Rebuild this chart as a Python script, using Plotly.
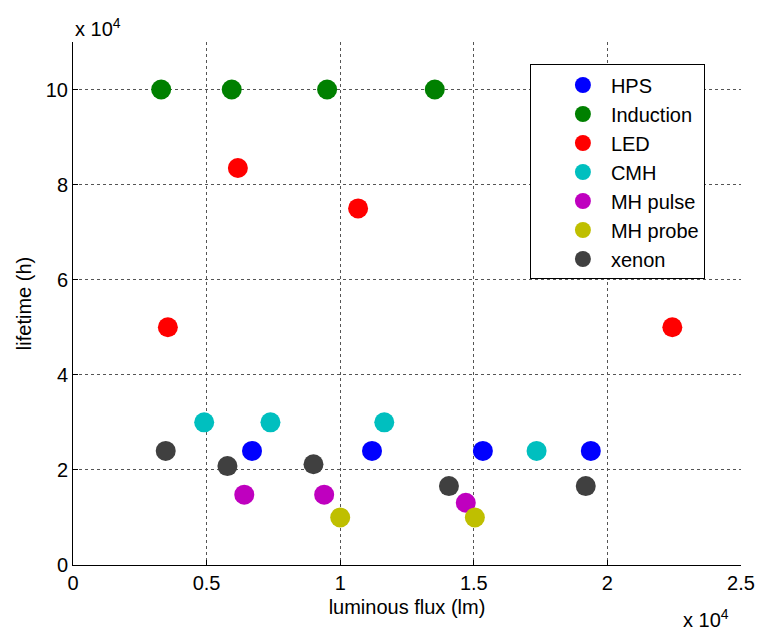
import plotly.graph_objects as go

series_names = ["HPS", "Induction", "LED", "CMH", "MH pulse", "MH probe", "xenon"]
series_colors = ["#0000ff", "#008000", "#ff0000", "#00bfbf", "#bf00bf", "#bfbf00", "#404040"]

hps_x = [6700, 11190, 15340, 19380]
hps_y = [24000, 24000, 24000, 24000]
induction_x = [3300, 5940, 9510, 13540]
induction_y = [100000, 100000, 100000, 100000]
led_x = [3550, 6170, 10670, 22430]
led_y = [50000, 83500, 75000, 50000]
cmh_x = [4910, 7390, 11650, 17350]
cmh_y = [30000, 30000, 30000, 24000]
mhpulse_x = [6410, 9400, 14700]
mhpulse_y = [14800, 14800, 13100]
mhprobe_x = [10000, 15040]
mhprobe_y = [10000, 10000]
xenon_x = [3470, 5780, 9000, 14070, 19190]
xenon_y = [24000, 20800, 21200, 16600, 16600]

xs = [hps_x, induction_x, led_x, cmh_x, mhpulse_x, mhprobe_x, xenon_x]
ys = [hps_y, induction_y, led_y, cmh_y, mhpulse_y, mhprobe_y, xenon_y]

x_tickvals = [0, 5000, 10000, 15000, 20000, 25000]
x_ticktext = ["0", "0.5", "1", "1.5", "2", "2.5"]
y_tickvals = [0, 20000, 40000, 60000, 80000, 100000]
y_ticktext = ["0", "2", "4", "6", "8", "10"]

FONT = "Liberation Sans, Arial, sans-serif"
FS = 20

fig = go.Figure()
for name, color, x, y in zip(series_names, series_colors, xs, ys):
    fig.add_trace(go.Scatter(x=x, y=y, mode="markers", name=name,
                             marker=dict(size=20, color=color, line=dict(width=0))))

axis_common = dict(showline=True, linecolor="black", linewidth=1, mirror=False,
                   ticks="inside", ticklen=5, tickcolor="black",
                   showgrid=True, gridcolor="#555555", griddash="dot", gridwidth=1,
                   zeroline=False, automargin=False,
                   tickfont=dict(size=FS, color="black"))

fig.update_xaxes(range=[0, 25000], tickvals=x_tickvals, ticktext=x_ticktext,
                 title=dict(text="luminous flux (lm)", font=dict(size=FS, color="black"), standoff=6),
                 **axis_common)
fig.update_yaxes(range=[0, 110000], tickvals=y_tickvals, ticktext=y_ticktext,
                 title=dict(text="lifetime (h)", font=dict(size=FS, color="black"), standoff=8),
                 **axis_common)

fig.update_layout(
    width=757, height=630,
    margin=dict(l=73, r=16, t=42, b=65),
    plot_bgcolor="white", paper_bgcolor="white",
    font=dict(family=FONT, size=FS, color="black"),
    showlegend=True,
    legend=dict(x=0.684, y=0.957, xanchor="left", yanchor="top",
                bordercolor="black", borderwidth=1, bgcolor="white",
                font=dict(size=FS), itemsizing="trace", tracegroupgap=0,
                indentation=24, itemwidth=46),
    annotations=[
        dict(text="x 10<sup>4</sup>", xref="paper", yref="paper", x=0, y=1.0,
             xanchor="left", yanchor="bottom", showarrow=False, font=dict(size=FS), yshift=0),
        dict(text="x 10<sup>4</sup>", xref="paper", yref="paper", x=0.948, y=-0.103,
             xanchor="center", yanchor="middle", showarrow=False, font=dict(size=FS)),
    ],
)

fig.write_html("out.html")
